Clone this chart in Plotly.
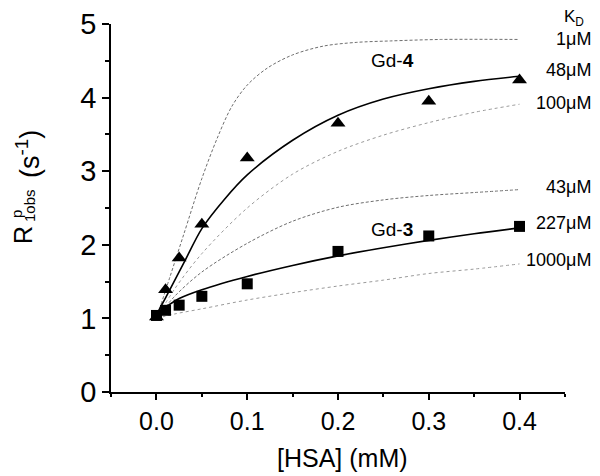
import plotly.graph_objects as go

gd4_x = [0.0, 0.01, 0.025, 0.05, 0.1, 0.2, 0.3, 0.4]
gd4_y = [1.02, 1.39, 1.82, 2.28, 3.18, 3.65, 3.95, 4.24]

gd3_x = [0.0, 0.01, 0.025, 0.05, 0.1, 0.2, 0.3, 0.4]
gd3_y = [1.04, 1.11, 1.18, 1.30, 1.47, 1.91, 2.12, 2.25]

# ---- fitted / simulated curves ----
fit4_x = [0.0, 0.01, 0.03, 0.05, 0.075, 0.1, 0.15, 0.2, 0.25, 0.3, 0.35, 0.4]
fit4_y = [1.05, 1.28, 1.75, 2.22, 2.62, 2.95, 3.42, 3.76, 3.98, 4.12, 4.22, 4.29]

kd1_x = [0.0, 0.015, 0.03, 0.05, 0.067, 0.083, 0.1, 0.122, 0.15, 0.184, 0.22, 0.258, 0.313, 0.4]
kd1_y = [1.0, 1.57, 2.14, 2.90, 3.45, 3.88, 4.17, 4.40, 4.58, 4.70, 4.75, 4.77, 4.79, 4.79]

kd100_x = [0.0, 0.02, 0.05, 0.1, 0.15, 0.2, 0.25, 0.3, 0.35, 0.4]
kd100_y = [1.0, 1.40, 1.88, 2.50, 2.96, 3.27, 3.49, 3.66, 3.80, 3.91]

fit3_x = [0.0, 0.01, 0.025, 0.05, 0.1, 0.15, 0.2, 0.25, 0.3, 0.35, 0.4]
fit3_y = [1.05, 1.15, 1.27, 1.39, 1.57, 1.72, 1.85, 1.96, 2.06, 2.15, 2.23]

kd43_x = [0.0, 0.02, 0.05, 0.1, 0.15, 0.2, 0.25, 0.3, 0.35, 0.4]
kd43_y = [1.0, 1.30, 1.63, 2.02, 2.32, 2.51, 2.61, 2.67, 2.71, 2.75]

kd1000_x = [0.0, 0.02, 0.05, 0.1, 0.15, 0.2, 0.25, 0.3, 0.35, 0.4]
kd1000_y = [1.0, 1.06, 1.13, 1.25, 1.35, 1.44, 1.52, 1.61, 1.67, 1.74]

kd_labels = ["1μM", "48μM", "100μM", "43μM", "227μM", "1000μM"]
kd_label_py = [0.959, 0.875, 0.785, 0.556, 0.459, 0.359]

fig = go.Figure()

dash_style = dict(color="#6e6e6e", width=1, dash="3px,2px")
dot_style = dict(color="#9a9a9a", width=1, dash="dot")
solid_style = dict(color="black", width=1.6)

for xs, ys, st in [(kd1_x, kd1_y, dash_style), (kd100_x, kd100_y, dot_style),
                   (kd43_x, kd43_y, dash_style), (kd1000_x, kd1000_y, dot_style),
                   (fit4_x, fit4_y, solid_style), (fit3_x, fit3_y, solid_style)]:
    fig.add_trace(go.Scatter(x=xs, y=ys, mode="lines",
                             line=dict(shape="spline", smoothing=0.9, **st)))

fig.add_trace(go.Scatter(x=gd4_x, y=gd4_y, mode="markers",
                         marker=dict(symbol="triangle-up", size=13, color="black")))
fig.add_trace(go.Scatter(x=gd3_x, y=gd3_y, mode="markers",
                         marker=dict(symbol="square", size=11, color="black")))

font_family = "Liberation Sans, Arial, sans-serif"

# page body adds an 8px offset, so the figure is drawn 8px smaller
fig.update_layout(
    width=592, height=468,
    margin=dict(l=103, r=35, t=16, b=84, autoexpand=False),
    paper_bgcolor="white", plot_bgcolor="white",
    showlegend=False,
    font=dict(family=font_family, color="black"),
)

fig.update_xaxes(
    range=[-0.0501, 0.4501], tick0=0, dtick=0.1, tickformat=".1f",
    showline=True, linecolor="black", linewidth=1.5, automargin=False,
    ticks="outside", ticklen=6, tickwidth=1.5, tickcolor="black",
    tickfont=dict(size=25, family=font_family),
    minor=dict(dtick=0.05, tick0=0, ticks="outside", ticklen=3, tickwidth=1.5, tickcolor="black"),
    showgrid=False, zeroline=False,
)
fig.update_yaxes(
    range=[0, 5], tick0=0, dtick=1,
    showline=True, linecolor="black", linewidth=1.5, automargin=False,
    ticks="outside", ticklen=7, tickwidth=1.5, tickcolor="black",
    tickfont=dict(size=29, family=font_family),
    minor=dict(dtick=0.5, tick0=0, ticks="outside", ticklen=4, tickwidth=1.5, tickcolor="black"),
    showgrid=False, zeroline=False,
)

# y-axis title built from pieces so the super/subscripts stack
fig.add_annotation(text="R", xref="paper", yref="paper", x=-0.1938, y=0.4266,
                   xanchor="center", yanchor="middle", textangle=-90, showarrow=False,
                   font=dict(size=25, family=font_family))
fig.add_annotation(text="p", xref="paper", yref="paper", x=-0.207, y=0.4837,
                   xanchor="center", yanchor="middle", textangle=-90, showarrow=False,
                   font=dict(size=15, family=font_family))
fig.add_annotation(text="1obs", xref="paper", yref="paper", x=-0.1806, y=0.5054,
                   xanchor="center", yanchor="middle", textangle=-90, showarrow=False,
                   font=dict(size=15, family=font_family))
fig.add_annotation(text="(s<sup>-1</sup>)", xref="paper", yref="paper", x=-0.1828, y=0.6467,
                   xanchor="center", yanchor="middle", textangle=-90, showarrow=False,
                   font=dict(size=27, family=font_family))

fig.add_annotation(text="[HSA] (mM)", xref="paper", yref="paper",
                   x=0.51, y=-0.18, xanchor="center", yanchor="middle",
                   showarrow=False, font=dict(size=25, family=font_family))

# compound labels
fig.add_annotation(text="Gd-<b>4</b>", x=0.26, y=4.51, showarrow=False,
                   font=dict(size=19, family=font_family))
fig.add_annotation(text="Gd-<b>3</b>", x=0.26, y=2.21, showarrow=False,
                   font=dict(size=19, family=font_family))

# K_D labels
fig.add_annotation(text="K<sub>D</sub>", xref="paper", yref="paper", x=1.0466, y=1.016,
                   xanchor="right", yanchor="middle", showarrow=False,
                   font=dict(size=17, family=font_family))
for lab, py in zip(kd_labels, kd_label_py):
    fig.add_annotation(text=lab, xref="paper", yref="paper", x=1.062, y=py,
                       xanchor="right", yanchor="middle", showarrow=False,
                       font=dict(size=18, family=font_family))

fig.write_html("out.html")
